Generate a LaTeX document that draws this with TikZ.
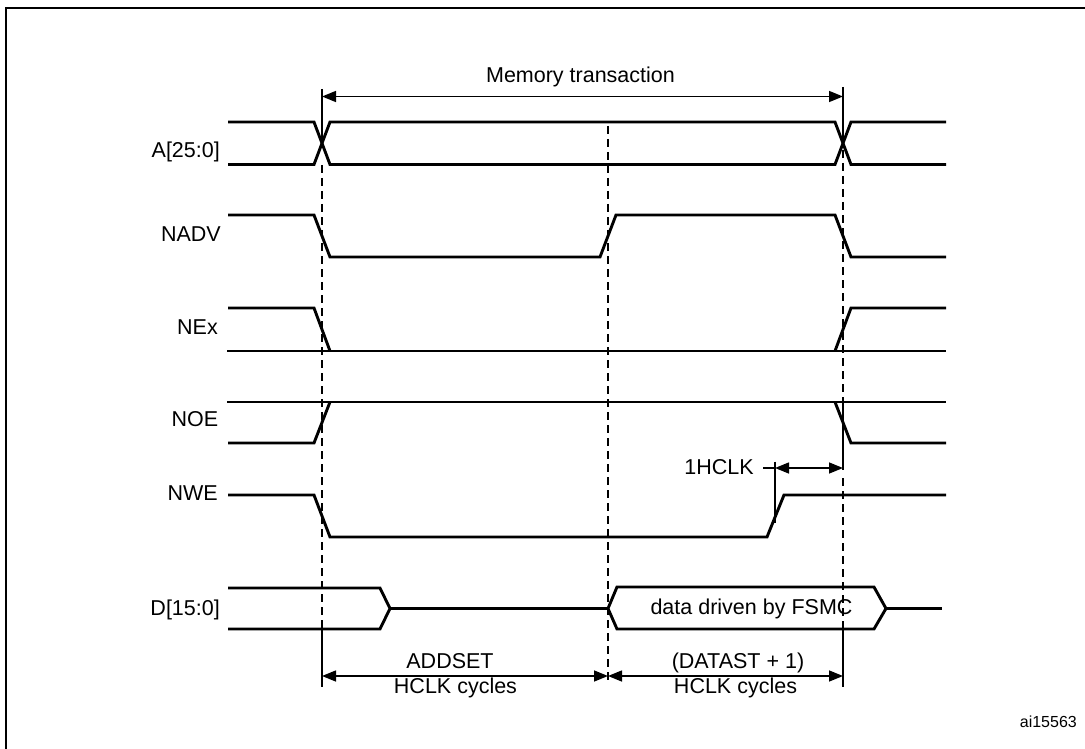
\documentclass[tikz,border=0pt]{standalone}
\usepackage{fontspec}
\setmainfont{Liberation Sans}
\usetikzlibrary{arrows.meta}
\begin{document}
\begin{tikzpicture}[x=1pt,y=-1pt,
  sig/.style={line width=2.9pt},
  dsh/.style={line width=1.7pt, dash pattern=on 8pt off 5pt},
  ext/.style={line width=1.5pt},
  dimarr/.style={line width=1.5pt, {Triangle[length=14pt,width=11pt]}-{Triangle[length=14pt,width=11pt]}},
  lbl/.style={font=\fontsize{21.5}{26}\selectfont, inner sep=0pt},
  tag/.style={font=\fontsize{16}{19}\selectfont, inner sep=0pt},
  frame/.style={line width=2.8pt}]
\useasboundingbox (0,0) rectangle (1085,749);
% frame
\draw[frame] (6,749) -- (6,8) -- (1085,8);

% signal labels
\node[lbl, anchor=base east] (lA)   at (220,158) {A[25:0]};
\node[lbl, anchor=base east] (lNADV) at (221,241.5) {NADV};
\node[lbl, anchor=base east] (lNEx) at (218,334) {NEx};
\node[lbl, anchor=base east] (lNOE) at (218.5,426.5) {NOE};
\node[lbl, anchor=base east] (lNWE) at (218,500.5) {NWE};
\node[lbl, anchor=base east] (lD)   at (220,615) {D[15:0]};

% A[25:0]
\draw[sig] (228,122) -- (314,122) -- (330,164.5) -- (835,164.5) -- (851,122) -- (946,122);
\draw[sig] (228,164.5) -- (314,164.5) -- (330,122) -- (835,122) -- (851,164.5) -- (946,164.5);
% NADV
\draw[sig] (228,215) -- (314,215) -- (330,257) -- (600,257) -- (616,215) -- (835,215) -- (851,257) -- (946,257);
% NEx
\draw[sig] (228,308) -- (314,308) -- (330,351);
\draw[sig] (227,351) -- (946,351);
\draw[sig] (835,351) -- (851,308) -- (946,308);
% NOE
\draw[sig] (227,402) -- (946,402);
\draw[sig] (228,443) -- (314,443) -- (330,402);
\draw[sig] (835,402) -- (851,443) -- (946,443);
% NWE
\draw[sig] (228,495) -- (314,495) -- (330,537) -- (767,537) -- (784,495) -- (946,495);
% D[15:0]
\draw[sig] (228,588) -- (380,588) -- (390,608.5) -- (380,629) -- (228,629);
\draw[sig] (390,608.5) -- (608,608.5);
\draw[sig] (608,608.5) -- (617,587) -- (874,587) -- (886,608.5) -- (874,629) -- (617,629) -- cycle;
\draw[sig] (886,608.5) -- (942,608.5);
\node[lbl, anchor=base] (ldata) at (751.5,614) {data driven by FSMC};

% time markers
\coordinate (t1a) at (322,89);
\coordinate (t1b) at (322,96.5);
\coordinate (t1c) at (322,676);
\coordinate (t3a) at (843,87);
\coordinate (t3b) at (843,96.5);
\coordinate (t3h) at (843,468);
\coordinate (t3c) at (843,676);
\coordinate (t2c) at (608,676);
\coordinate (h1) at (775,468);
\coordinate (h0) at (763,468);

% left marker
\draw[ext] (t1a) -- (322,145);
\draw[dsh] (322,165) -- (322,629);
\draw[ext] (322,629) -- (322,687);
% middle marker
\draw[dsh] (608,126) -- (608,684);
% right marker
\draw[ext] (t3a) -- (843,145);
\draw[dsh] (843,150) -- (843,405);
\draw[ext] (843,405) -- (843,470);
\draw[dsh] (843,478) -- (843,629);
\draw[ext] (843,629) -- (843,687);

% Memory transaction
\draw[dimarr] (t1b) -- (t3b);
\node[lbl, anchor=base] (lmem) at (580.5,83) {Memory transaction};

% 1HCLK
\draw[ext] (775,461.5) -- (775,523);
\draw[ext] (h0) -- (h1);
\draw[dimarr] (h1) -- (t3h);
\node[lbl, anchor=base east] (lhclk) at (754,474) {1HCLK};

% bottom dimensions
\draw[dimarr] (t1c) -- (t2c);
\draw[dimarr] (t2c) -- (t3c);
\node[lbl, anchor=base] (ladd) at (450,668.3) {ADDSET};
\node[lbl, anchor=base] (laddc) at (455.5,693.3) {HCLK cycles};
\node[lbl, anchor=base] (ldat) at (738,668.3) {(DATAST + 1)};
\node[lbl, anchor=base] (ldatc) at (735.5,693.3) {HCLK cycles};

\node[tag, anchor=base east] (ltag) at (1077,727) {ai15563};
\end{tikzpicture}
\end{document}
